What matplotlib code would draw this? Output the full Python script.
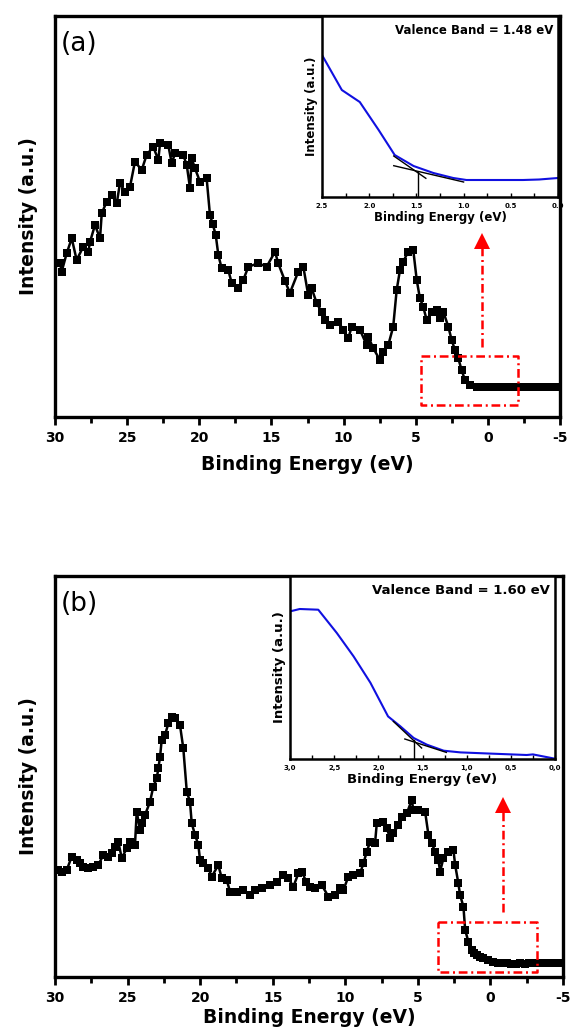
import numpy as np
import matplotlib.pyplot as plt
from matplotlib.ticker import MultipleLocator

plt.rcParams['font.family'] = 'DejaVu Sans'
plt.rcParams['axes.unicode_minus'] = False

#***************** panel (a) survey spectrum
be_a = [29.65, 29.54, 29.19, 28.84, 28.50, 28.04, 27.69, 27.57, 27.23, 26.88,
        26.76, 26.42, 26.07, 25.72, 25.50, 25.15, 24.80, 24.46, 23.99, 23.65,
        23.19, 22.84, 22.72, 22.15, 21.91, 21.68, 21.11, 20.87, 20.64, 20.53,
        20.30, 19.95, 19.49, 19.26, 19.07, 18.86, 18.68, 18.45, 17.99, 17.75,
        17.30, 16.95, 16.60, 15.91, 15.33, 14.75, 14.53, 14.06, 13.72, 13.14,
        12.79, 12.45, 12.21, 11.86, 11.52, 11.29, 10.94, 10.37, 10.02, 9.67,
        9.44, 8.86, 8.40, 8.29, 7.94, 7.48, 7.25, 6.90, 6.56, 6.32,
        6.09, 5.86, 5.53, 5.17, 4.93, 4.71, 4.48, 4.24, 3.89, 3.55,
        3.32, 3.09, 2.74, 2.51, 2.28, 2.05, 1.82, 1.59, 1.24, 0.78,
        0.50, 0.20, -0.10, -0.40, -0.70, -1.00, -1.30, -1.60, -1.90, -2.20,
        -2.50, -2.80, -3.10, -3.40, -3.70, -4.00, -4.30, -4.60, -4.90]
int_a = [153.7, 145.3, 163.7, 178.7, 157.0, 170.3, 165.3, 175.3, 192.0, 178.7,
         203.7, 215.3, 222.0, 213.7, 233.7, 225.3, 230.3, 255.3, 247.0, 262.0,
         270.3, 257.0, 273.7, 272.0, 253.7, 263.7, 262.0, 252.0, 228.7, 258.7,
         248.7, 235.3, 238.7, 202.0, 193.0, 182.0, 162.0, 148.7, 147.0, 133.7,
         128.7, 137.0, 150.3, 153.7, 150.3, 165.3, 153.7, 136.0, 124.0, 145.3,
         150.3, 122.0, 128.7, 113.7, 105.3, 97.0, 92.0, 95.3, 87.0, 78.7,
         90.3, 87.0, 72.0, 80.3, 68.7, 57.0, 65.3, 72.0, 90.3, 127.0,
         147.0, 155.3, 165.3, 167.0, 137.0, 118.7, 110.3, 97.0, 105.3, 107.0,
         98.7, 105.3, 90.3, 77.0, 67.0, 58.7, 47.0, 37.0, 32.0, 30.3,
         30.0, 29.8, 30.0, 29.7, 30.0, 30.0, 29.8, 30.0, 29.7, 30.0,
         29.8, 30.0, 30.0, 29.7, 30.0, 29.8, 30.0, 29.7, 30.0]

#***************** panel (b) survey spectrum
be_b = [29.77, 29.54, 29.19, 28.85, 28.50, 28.28, 28.05, 27.71, 27.36, 27.02,
        26.67, 26.33, 26.09, 25.86, 25.64, 25.40, 25.06, 24.83, 24.49, 24.37,
        24.14, 24.02, 23.80, 23.45, 23.23, 22.99, 22.88, 22.76, 22.65, 22.42,
        22.19, 21.96, 21.73, 21.39, 21.16, 20.92, 20.70, 20.58, 20.35, 20.12,
        20.01, 19.78, 19.43, 19.20, 18.75, 18.51, 18.17, 17.94, 17.48, 17.02,
        16.56, 16.22, 15.75, 15.18, 14.72, 14.27, 13.92, 13.58, 13.23, 12.98,
        12.70, 12.43, 12.08, 11.62, 11.16, 10.70, 10.36, 10.13, 9.79, 9.44,
        8.98, 8.75, 8.52, 8.29, 7.95, 7.83, 7.37, 7.14, 6.91, 6.68,
        6.34, 6.11, 5.76, 5.42, 5.31, 4.96, 4.50, 4.27, 4.04, 3.81,
        3.58, 3.47, 3.24, 2.89, 2.55, 2.43, 2.21, 2.09, 1.86, 1.74,
        1.52, 1.28, 1.10, 0.94, 0.70, 0.48, 0.20, -0.21, -0.50, -0.80,
        -1.13, -1.45, -1.75, -2.05, -2.35, -2.65, -2.95, -3.25, -3.55, -3.85,
        -4.15, -4.45, -4.65]
int_b = [107.0, 105.3, 107.0, 120.3, 117.0, 113.7, 110.3, 108.7, 110.3, 112.0,
         122.0, 120.3, 123.7, 130.3, 135.3, 118.7, 128.7, 135.3, 132.0, 165.3,
         147.0, 153.7, 162.0, 175.3, 190.3, 198.7, 208.7, 220.3, 237.0, 242.0,
         253.7, 260.3, 258.7, 252.0, 228.7, 185.3, 175.3, 153.7, 142.0, 132.0,
         117.0, 113.7, 108.7, 100.3, 112.0, 98.7, 97.0, 85.3, 85.3, 87.0,
         82.0, 87.0, 88.7, 92.0, 95.3, 102.0, 98.7, 90.3, 103.7, 105.3,
         95.3, 90.3, 88.7, 92.0, 80.3, 82.0, 88.7, 87.0, 100.3, 102.0,
         103.7, 113.7, 125.3, 135.3, 133.7, 153.7, 155.3, 148.7, 138.7, 143.7,
         152.0, 160.3, 163.7, 177.0, 167.0, 167.0, 165.3, 142.0, 133.7, 125.3,
         117.0, 105.3, 118.7, 125.3, 127.0, 112.0, 93.7, 82.0, 70.3, 47.0,
         35.3, 27.0, 24.0, 22.0, 20.0, 18.7, 17.0, 15.3, 14.5, 14.0,
         13.7, 13.5, 13.5, 13.7, 13.5, 13.7, 14.0, 13.7, 14.0, 14.0,
         14.0, 14.3, 14.3]

#***************** valence band edge insets
vb_be_a = [2.5, 2.29, 2.10, 1.90, 1.73, 1.53, 1.32, 1.11, 0.97, 0.75, 0.5, 0.37, 0.2, 0.0]
vb_int_a = [142, 107, 95, 67, 42, 31, 24, 19, 17, 17, 17, 17, 17.5, 19]
vb_be_b = [3.0, 2.89, 2.68, 2.47, 2.28, 2.09, 1.89, 1.75, 1.60, 1.45, 1.26, 1.07, 0.70, 0.32, 0.25, 0.0]
vb_int_b = [147.6, 150, 149.3, 126, 102.6, 76.3, 42.6, 32.6, 21, 14.3, 8.3, 6.6, 5.3, 4, 4.6, 0.3]
vb_a = 1.48
vb_b = 1.60
# tangent (linear extrapolation) segments
tan1_a = ([1.74, 1.40], [41, 18.7])
tan2_a = ([1.74, 1.00], [31.3, 15])
tan1_b = ([1.83, 1.51], [37.6, 11])
tan2_b = ([1.70, 1.23], [20, 6.6])
vline_top_a = 25
vline_top_b = 19

# zoom boxes + arrows pointing to inset
box_a = ([4.64, -2.09, -2.09, 4.64, 4.64], [61, 61, 12, 12, 61])
arrow_a = ([0.39, 0.39], [70, 170])
box_b = ([3.58, -3.24, -3.24, 3.58, 3.58], [55.3, 55.3, 5.3, 5.3, 55.3])
arrow_b = ([-0.90, -0.90], [65, 166])

main_ticks = [30, 25, 20, 15, 10, 5, 0, -5]
ins_ticks_a = [2.5, 2.0, 1.5, 1.0, 0.5, 0.0]
ins_lbls_a = ['2.5', '2.0', '1.5', '1.0', '0.5', '0.0']
ins_ticks_b = [3.0, 2.5, 2.0, 1.5, 1.0, 0.5, 0.0]
ins_lbls_b = ['3,0', '2,5', '2,0', '1,5', '1,0', '0,5', '0,0']

W, H = 572, 1030
fig = plt.figure(figsize=(W / 100, H / 100), dpi=100)

def frac(x0, y0, x1, y1):
    # pixel box (left, top, right, bottom) -> figure fraction rect
    return [x0 / W, 1 - y1 / H, (x1 - x0) / W, (y1 - y0) / H]

ax_a = fig.add_axes(frac(55, 16, 560, 417))
ax_b = fig.add_axes(frac(55, 576, 563, 977))

for ax, be, inten, box, arr, lab, lp in [(ax_a, be_a, int_a, box_a, arrow_a, '(a)', 7),
                                         (ax_b, be_b, int_b, box_b, arrow_b, '(b)', 2)]:
    ax.plot(be, inten, color='black', linewidth=1.8, marker='s', markersize=5.4,
            markeredgewidth=0)
    ax.plot(box[0], box[1], color='red', linewidth=1.8, dashes=(3.5, 1.5, 0.8, 1.5))
    ax.plot(arr[0], arr[1], color='red', linewidth=1.8, dashes=(3.5, 1.5, 0.8, 1.5))
    ax.plot(arr[0][1], arr[1][1] + 6, marker='^', color='red', markersize=11,
            markeredgewidth=0)
    ax.set_xlim(30, -5)
    ax.set_ylim(0, 401)
    ax.set_xticks(main_ticks)
    ax.set_xticklabels([str(t) for t in main_ticks], fontsize=10, fontweight='bold')
    ax.xaxis.set_minor_locator(MultipleLocator(2.5))
    ax.tick_params(axis='x', which='major', direction='out', length=6, width=2, pad=4)
    ax.tick_params(axis='x', which='minor', direction='out', length=4, width=2)
    ax.set_yticks([])
    for s in ax.spines.values():
        s.set_linewidth(2.4)
    ax.set_xlabel('Binding Energy (eV)', fontsize=13.5, fontweight='bold', labelpad=lp)
    ax.set_ylabel('Intensity (a.u.)', fontsize=13.5, fontweight='bold', labelpad=12)
    ax.text(0.012, 0.93, lab, transform=ax.transAxes, fontsize=19, va='center')

#***************** insets
in_a = fig.add_axes(frac(322, 16, 558, 197))
in_b = fig.add_axes(frac(290, 576, 555, 759))

for ax, vbe, vint, t1, t2, vb, vtop, ticks, lbls, txt, fs in [
        (in_a, vb_be_a, vb_int_a, tan1_a, tan2_a, vb_a, vline_top_a, ins_ticks_a, ins_lbls_a,
         'Valence Band = 1.48 eV', 8.5),
        (in_b, vb_be_b, vb_int_b, tan1_b, tan2_b, vb_b, vline_top_b, ins_ticks_b, ins_lbls_b,
         'Valence Band = 1.60 eV', 9.5)]:
    ax.plot(vbe, vint, color='#1010e0', linewidth=1.5)
    ax.plot(t1[0], t1[1], color='black', linewidth=1.0)
    ax.plot(t2[0], t2[1], color='black', linewidth=1.0)
    ax.plot([vb, vb], [0, vtop], color='black', linewidth=1.0)
    ax.set_xlim(ticks[0], 0.0)
    ax.set_ylim(0, 183 if ax is in_b else 181)
    ax.set_xticks(ticks)
    ax.set_xticklabels(lbls, fontsize=5, fontweight='bold')
    ax.xaxis.set_minor_locator(MultipleLocator(0.25))
    ax.tick_params(axis='x', which='both', direction='in', length=3, width=1, pad=4)
    ax.set_yticks([])
    for s in ax.spines.values():
        s.set_linewidth(1.8)
    ax.text(0.98, 0.92, txt, transform=ax.transAxes, ha='right', va='center',
            fontsize=fs, fontweight='bold')
    ax.set_xlabel('Binding Energy (eV)', fontsize=fs, fontweight='bold', labelpad=1.5)
    ax.set_ylabel('Intensity (a.u.)', fontsize=fs, fontweight='bold', labelpad=3)

fig.savefig('out.png', dpi=100)
